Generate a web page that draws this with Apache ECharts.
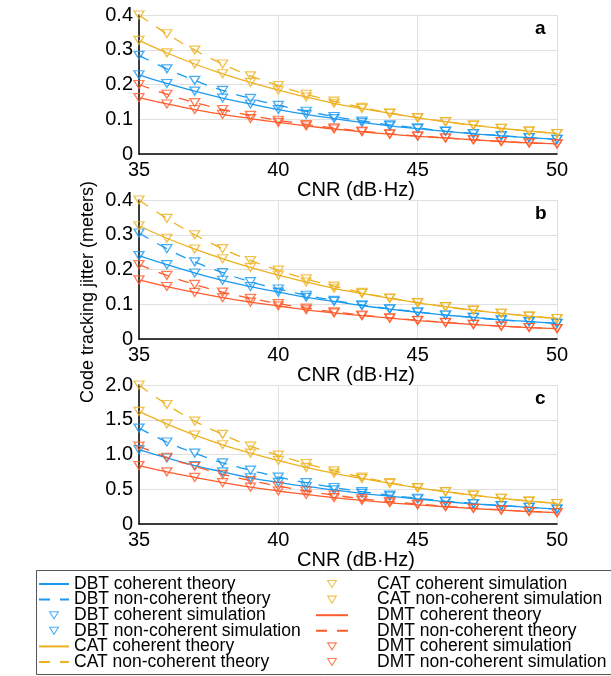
<!DOCTYPE html>
<html>
<head>
<meta charset="utf-8">
<script src="https://cdn.jsdelivr.net/npm/echarts@6/dist/echarts.min.js"></script>
<style>
html, body { margin: 0; padding: 0; background: #fff; }
#chart { width: 611px; height: 676px; }
</style>
</head>
<body>
<div id="chart"></div>
<script>
var cnr = [35, 36, 37, 38, 39, 40, 41, 42, 43, 44, 45, 46, 47, 48, 49, 50];

// panel a
var aDbtCoh = [0.228, 0.203, 0.181, 0.161, 0.144, 0.128, 0.114, 0.102, 0.091, 0.081, 0.073, 0.065, 0.058, 0.052, 0.047, 0.042];
var aDbtNon = [0.284, 0.245, 0.212, 0.183, 0.160, 0.140, 0.123, 0.108, 0.095, 0.084, 0.075, 0.066, 0.059, 0.053, 0.047, 0.042];
var aCatCoh = [0.327, 0.291, 0.259, 0.231, 0.206, 0.184, 0.164, 0.146, 0.131, 0.117, 0.104, 0.093, 0.083, 0.074, 0.066, 0.059];
var aCatNon = [0.400, 0.346, 0.299, 0.259, 0.225, 0.197, 0.172, 0.152, 0.134, 0.118, 0.105, 0.093, 0.083, 0.074, 0.066, 0.059];
var aDmtCoh = [0.162, 0.144, 0.128, 0.114, 0.102, 0.091, 0.081, 0.072, 0.064, 0.057, 0.051, 0.046, 0.041, 0.036, 0.032, 0.029];
var aDmtNon = [0.200, 0.172, 0.148, 0.128, 0.111, 0.097, 0.085, 0.075, 0.066, 0.058, 0.052, 0.046, 0.041, 0.036, 0.032, 0.029];

// panel b
var bDbtCoh = [0.240, 0.214, 0.190, 0.169, 0.151, 0.135, 0.120, 0.108, 0.096, 0.086, 0.077, 0.069, 0.062, 0.055, 0.050, 0.045];
var bDbtNon = [0.305, 0.260, 0.222, 0.191, 0.165, 0.144, 0.126, 0.111, 0.098, 0.087, 0.078, 0.069, 0.062, 0.055, 0.050, 0.045];
var bCatCoh = [0.326, 0.290, 0.259, 0.231, 0.206, 0.184, 0.164, 0.146, 0.131, 0.117, 0.104, 0.093, 0.083, 0.074, 0.066, 0.059];
var bCatNon = [0.400, 0.347, 0.300, 0.260, 0.226, 0.198, 0.173, 0.152, 0.134, 0.118, 0.105, 0.093, 0.083, 0.074, 0.066, 0.059];
var bDmtCoh = [0.170, 0.151, 0.134, 0.119, 0.106, 0.095, 0.084, 0.075, 0.067, 0.060, 0.053, 0.047, 0.042, 0.037, 0.033, 0.030];
var bDmtNon = [0.214, 0.183, 0.157, 0.135, 0.117, 0.102, 0.089, 0.078, 0.069, 0.061, 0.054, 0.048, 0.042, 0.037, 0.033, 0.030];

// panel c
var cDbtCoh = [1.07, 0.95, 0.84, 0.75, 0.665, 0.60, 0.54, 0.49, 0.44, 0.40, 0.36, 0.32, 0.29, 0.265, 0.24, 0.215];
var cDbtNon = [1.38, 1.18, 1.02, 0.88, 0.775, 0.675, 0.595, 0.525, 0.465, 0.415, 0.37, 0.33, 0.295, 0.265, 0.24, 0.215];
var cCatCoh = [1.62, 1.44, 1.28, 1.14, 1.02, 0.915, 0.815, 0.73, 0.655, 0.585, 0.52, 0.465, 0.415, 0.37, 0.33, 0.295];
var cCatNon = [2.00, 1.72, 1.48, 1.29, 1.12, 0.99, 0.87, 0.765, 0.675, 0.595, 0.525, 0.465, 0.415, 0.37, 0.33, 0.295];
var cDmtCoh = [0.84, 0.75, 0.67, 0.595, 0.53, 0.475, 0.425, 0.38, 0.34, 0.305, 0.275, 0.248, 0.223, 0.20, 0.18, 0.163];
var cDmtNon = [1.12, 0.96, 0.83, 0.715, 0.625, 0.545, 0.475, 0.415, 0.365, 0.322, 0.287, 0.255, 0.228, 0.204, 0.182, 0.165];

var panelLetters = ['a', 'b', 'c'];
var yMax = [0.4, 0.4, 2.0];
var yStep = [0.1, 0.1, 0.5];

var blue = '#1a9af0', yellow = '#edb120', red = '#ff5b2b';
var font = 'Liberation Sans, Arial, sans-serif';
var tri = 'path://M0,0 L10,0 L5,8 Z';

var panels = [
    { DBT: [aDbtCoh, aDbtNon], CAT: [aCatCoh, aCatNon], DMT: [aDmtCoh, aDmtNon] },
    { DBT: [bDbtCoh, bDbtNon], CAT: [bCatCoh, bCatNon], DMT: [bDmtCoh, bDmtNon] },
    { DBT: [cDbtCoh, cDbtNon], CAT: [cCatCoh, cCatNon], DMT: [cDmtCoh, cDmtNon] }
];
var algos = [['DBT', blue], ['CAT', yellow], ['DMT', red]];
var gridTops = [15, 200, 385];
var gridH = 139;

function pairs(vals) {
    return cnr.map(function (x, i) { return [x, vals[i]]; });
}

var grids = [], xAxes = [], yAxes = [], series = [], graphics = [];

panels.forEach(function (p, k) {
    grids.push({ left: 139, right: 54, top: gridTops[k], height: gridH });
    xAxes.push({
        type: 'value', gridIndex: k, min: 35, max: 50, interval: 5,
        name: 'CNR (dB·Hz)', nameLocation: 'middle', nameGap: 22,
        nameTextStyle: { fontSize: 20, color: '#000', fontFamily: font, padding: [0, 0, 0, 16] },
        axisLine: { lineStyle: { color: '#000', width: 1.5 } },
        axisTick: { show: false },
        axisLabel: { fontSize: 20, color: '#000', fontFamily: font, margin: 6 },
        splitLine: { show: true, lineStyle: { color: '#e0e0e0', width: 1 } }
    });
    yAxes.push({
        type: 'value', gridIndex: k, min: 0, max: yMax[k], interval: yStep[k],
        axisLine: { show: true, lineStyle: { color: '#000', width: 1.5 } },
        axisTick: { show: false },
        axisLabel: {
            fontSize: 20, color: '#000', fontFamily: font, margin: 6,
            formatter: function (v) { return v === 0 ? '0' : v.toFixed(1); }
        },
        splitLine: { show: true, lineStyle: { color: '#e0e0e0', width: 1 } }
    });

    algos.forEach(function (a) {
        var name = a[0], col = a[1];
        var coh = p[name][0], non = p[name][1];
        series.push({
            name: name + ' coherent theory', type: 'line', xAxisIndex: k, yAxisIndex: k,
            data: pairs(coh), smooth: true, symbol: 'none',
            lineStyle: { color: col, width: 1.3 }, itemStyle: { color: col }
        });
        series.push({
            name: name + ' non-coherent theory', type: 'line', xAxisIndex: k, yAxisIndex: k,
            data: pairs(non), smooth: true, symbol: 'none',
            lineStyle: { color: col, width: 1.3, type: [11, 10] }, itemStyle: { color: col }
        });
        series.push({
            name: name + ' coherent simulation', type: 'scatter', xAxisIndex: k, yAxisIndex: k,
            data: pairs(coh), symbol: tri, symbolSize: [10, 8], z: 3,
            itemStyle: { color: 'rgba(255,255,255,0)', borderColor: col, borderWidth: 1.3 }
        });
        series.push({
            name: name + ' non-coherent simulation', type: 'scatter', xAxisIndex: k, yAxisIndex: k,
            data: pairs(non), symbol: tri, symbolSize: [10, 8], z: 3,
            itemStyle: { color: 'rgba(255,255,255,0)', borderColor: col, borderWidth: 1.3 }
        });
    });

    graphics.push({
        type: 'text', left: 535, top: gridTops[k] + 4,
        style: { text: panelLetters[k], font: 'bold 19px ' + font, fill: '#000' }
    });
});

graphics.push({
    type: 'text', x: 88, y: 292, rotation: Math.PI / 2,
    style: {
        text: 'Code tracking jitter (meters)', font: '18px ' + font, fill: '#000',
        align: 'center', verticalAlign: 'middle'
    }
});
graphics.push({
    type: 'rect', shape: { x: 36.5, y: 570.5, width: 600, height: 104 },
    style: { fill: 'none', stroke: '#555', lineWidth: 1 }
});

var leftNames = ['DBT coherent theory', 'DBT non-coherent theory', 'DBT coherent simulation',
    'DBT non-coherent simulation', 'CAT coherent theory', 'CAT non-coherent theory'];
var rightNames = ['CAT coherent simulation', 'CAT non-coherent simulation', 'DMT coherent theory',
    'DMT non-coherent theory', 'DMT coherent simulation', 'DMT non-coherent simulation'];

// line entries get no dot in their legend icon
function legendData(names) {
    return names.map(function (n) {
        if (n.indexOf('theory') >= 0) {
            return { name: n, itemStyle: { color: 'rgba(0,0,0,0)', borderWidth: 0, opacity: 0 } };
        }
        return { name: n, itemStyle: { borderWidth: 1.1 } };
    });
}

var chart = echarts.init(document.getElementById('chart'));
chart.setOption({
    animation: false,
    grid: grids,
    xAxis: xAxes,
    yAxis: yAxes,
    legend: [{
        data: legendData(leftNames), orient: 'vertical', left: 38, top: 575, padding: 0,
        itemWidth: 30, itemHeight: 7, itemGap: -2.4, selectedMode: false,
        textStyle: { fontSize: 17.5, color: '#000', fontFamily: font }
    }, {
        data: legendData(rightNames), orient: 'vertical', left: 315, top: 575, padding: 0,
        itemWidth: 32, itemHeight: 7, itemGap: -2.4, selectedMode: false,
        textStyle: { fontSize: 17.5, color: '#000', fontFamily: font, padding: [0, 0, 0, 24] }
    }],
    graphic: graphics,
    series: series
});
window.addEventListener('resize', function () {
    chart.resize();
});
</script>
</body>
</html>
